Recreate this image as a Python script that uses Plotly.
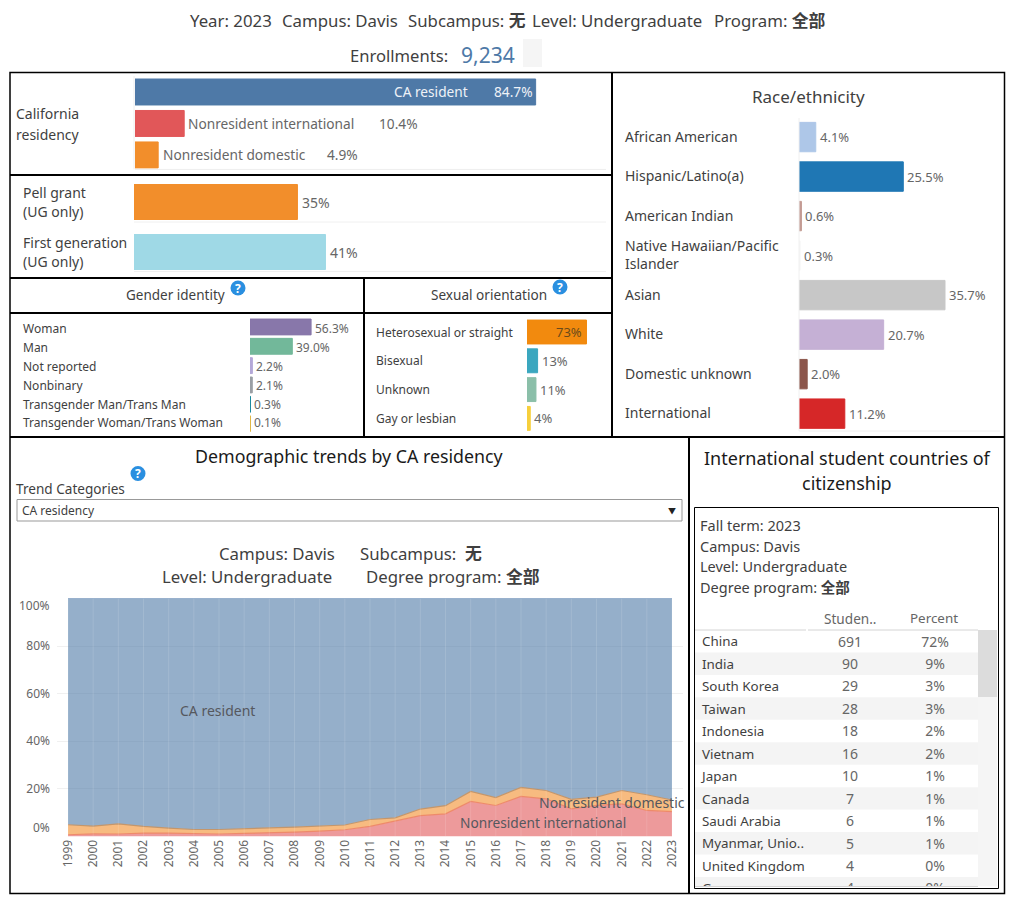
import plotly.graph_objects as go

# ---------- data ----------
RES_CATS = ["CA resident", "Nonresident international", "Nonresident domestic"]
RES_VALS = [84.7, 10.4, 4.9]
UG_CATS = ["Pell grant", "First generation"]
UG_VALS = [35, 41]
GENDER_CATS = ["Woman", "Man", "Not reported", "Nonbinary", "Transgender Man/Trans Man", "Transgender Woman/Trans Woman"]
GENDER_VALS = [56.3, 39.0, 2.2, 2.1, 0.3, 0.1]
ORIENT_CATS = ["Heterosexual or straight", "Bisexual", "Unknown", "Gay or lesbian"]
ORIENT_VALS = [73, 13, 11, 4]
RACE_CATS = ["African American", "Hispanic/Latino(a)", "American Indian", "Native Hawaiian/Pacific<br>Islander",
             "Asian", "White", "Domestic unknown", "International"]
RACE_VALS = [4.1, 25.5, 0.6, 0.3, 35.7, 20.7, 2.0, 11.2]
YEARS = list(range(1999, 2024))
INTL = [0.7, 1.1, 1.0, 1.4, 1.4, 1.3, 1.0, 1.3, 1.4, 1.8, 2.2, 2.8, 4.2, 6.4, 8.7, 9.5, 14.7, 13.0, 16.8, 15.8, 11.6, 13.0, 13.7, 10.9, 10.4]
DOMESTIC = [4.2, 3.2, 4.3, 2.8, 2.1, 1.6, 1.9, 2.1, 2.2, 2.1, 2.1, 2.0, 2.9, 1.4, 2.8, 3.4, 4.2, 3.3, 3.8, 3.5, 4.0, 3.5, 5.6, 6.6, 4.9]
CA_RES = [95.1, 95.7, 94.7, 95.8, 96.5, 97.1, 97.1, 96.6, 96.4, 96.1, 95.7, 95.2, 92.9, 92.2, 88.5, 87.1, 81.1, 83.7, 79.4, 80.7, 84.4, 83.5, 80.7, 82.5, 84.7]
COUNTRIES = ["China", "India", "South Korea", "Taiwan", "Indonesia", "Vietnam", "Japan", "Canada",
             "Saudi Arabia", "Myanmar, Unio..", "United Kingdom", "Germany"]
STUDENTS = [691, 90, 29, 28, 18, 16, 10, 7, 6, 5, 4, 4]
PERCENTS = [72, 9, 3, 3, 2, 2, 1, 1, 1, 1, 0, 0]

# ---------- style ----------
W, H = 1012, 900
FONT = "'Noto Sans', 'Noto Sans CJK SC', sans-serif"
DARK, GREY = "#3f3f3f", "#666666"
RES_COLORS = ["#4e79a7", "#e15759", "#f28e2b"]
UG_COLORS = ["#f28e2b", "#9fd9e6"]
GENDER_COLORS = ["#8877aa", "#72b89a", "#b4a8d8", "#9a9fa5", "#0f8299", "#d8a820"]
ORIENT_COLORS = ["#f28a0e", "#3ba7bf", "#8bbfa9", "#f6cf3c"]
RACE_COLORS = ["#aec7e8", "#1f77b4", "#c49c94", "#f7f7f7", "#c7c7c7", "#c5b0d5", "#8c564b", "#d62728"]

def px(x): return x / W
def py(y): return 1 - y / H
def dx(a, b): return [px(a), px(b)]
def dy(top, bot): return [py(bot), py(top)]

fig = go.Figure()
ann, shp = [], []

def text(x, y, s, size=14, color=DARK, anchor="left", **kw):
    ann.append(dict(xref="paper", yref="paper", x=px(x - (2 if anchor == "left" else 0)), y=py(y), text=s, showarrow=False,
                    xanchor=anchor, yanchor="middle", align=kw.pop("align", anchor),
                    font=dict(family=FONT, size=size, color=color), **kw))

def line(x0, y0, x1, y1, color="black", width=1.5):
    shp.append(dict(type="line", xref="paper", yref="paper", x0=px(x0), x1=px(x1), y0=py(y0), y1=py(y1),
                    line=dict(color=color, width=width), layer="above"))

def rect(x0, y0, x1, y1, fill=None, color=None, width=1, layer="below", kind="rect"):
    shp.append(dict(type=kind, xref="paper", yref="paper", x0=px(x0), x1=px(x1), y0=py(y0), y1=py(y1),
                    fillcolor=fill or "rgba(0,0,0,0)", line=dict(color=color or "rgba(0,0,0,0)", width=width), layer=layer))

layout = {}
def hbars(idx, cats, vals, colors, xd, yd, xmax, gap, yrange=None):
    sfx = "" if idx == 1 else str(idx)
    n = len(cats)
    layout["xaxis" + sfx] = dict(domain=dx(*xd), range=[0, xmax], visible=False, fixedrange=True, anchor="y" + sfx)
    layout["yaxis" + sfx] = dict(domain=dy(*yd), type="category", visible=False, fixedrange=True,
                                 range=yrange or [n - 0.5, -0.5], anchor="x" + sfx)
    fig.add_trace(go.Bar(x=vals, y=cats, orientation="h", xaxis="x" + sfx, yaxis="y" + sfx,
                         marker=dict(color=colors, line=dict(color=colors, width=1)), hoverinfo="skip",
                         width=1 - gap, showlegend=False))
    return "x" + sfx, "y" + sfx

def val_label(xr, yr, cat, val, s, size, color=GREY, shift=5, anchor="left", ysh=0):
    ann.append(dict(xref=xr, yref=yr, x=val, y=cat, text=s, showarrow=False, xanchor=anchor, yanchor="middle", yshift=ysh,
                    xshift=shift + (-2 if anchor == "left" else 2), font=dict(family=FONT, size=size, color=color)))

def cat_label(yr, cat, x, s, size, color=DARK, ysh=0):
    ann.append(dict(xref="paper", yref=yr, x=px(x - 2), y=cat, text=s, showarrow=False, xanchor="left", align="left",
                    yanchor="middle", yshift=ysh, font=dict(family=FONT, size=size, color=color)))

# ---------- header ----------
for x, s in [(190, "Year: 2023"), (282, "Campus: Davis"), (408, "Subcampus: <b>无</b>"),
             (532, "Level: Undergraduate"), (714, "Program: <b>全部</b>")]:
    text(x, 21, s, 16.8, DARK)
text(350, 55, "Enrollments:", 16.6, DARK)
text(461, 55, "9,234", 21, "#4e79a7")
rect(523, 39, 542, 67, fill="#f5f5f5")

# ---------- residency ----------
xr, yr = hbars(1, RES_CATS, RES_VALS, RES_COLORS, (135, 606), (76.25, 169.4), 471 / 4.73, 0.175, [2.46, -0.5])
text(16, 113.5, "California", 14); text(16, 134.5, "residency", 14)
val_label(xr, yr, "CA resident", 84.7, "CA resident", 13.7, "#eef2f7", -68, "right")
val_label(xr, yr, "CA resident", 84.7, "84.7%", 13.7, "#eef2f7", -3, "right")
val_label(xr, yr, "Nonresident international", 10.4, "Nonresident international", 13.7, GREY, 4)
val_label(xr, yr, "Nonresident international", 10.4, "10.4%", 13.7, GREY, 195)
val_label(xr, yr, "Nonresident domestic", 4.9, "Nonresident domestic", 13.7, GREY, 5)
val_label(xr, yr, "Nonresident domestic", 4.9, "4.9%", 13.7, GREY, 169)
line(135, 169.4, 606, 169.4, "#eeeeee", 1); line(134, 76, 134, 169.4, "#eeeeee", 1)

# ---------- pell / first gen ----------
xr, yr = hbars(2, UG_CATS, UG_VALS, UG_COLORS, (134, 606), (177, 277), 472 / 4.67, 0.3)
val_label(xr, yr, "Pell grant", 35, "35%", 14)
val_label(xr, yr, "First generation", 41, "41%", 14)
text(23, 192.5, "Pell grant", 14); text(23, 211.5, "(UG only)", 14)
text(23, 242.5, "First generation", 14); text(23, 261.5, "(UG only)", 14)
line(134, 222, 606, 222, "#f0f0f0", 1); line(134, 271.5, 606, 271.5, "#f0f0f0", 1)

# ---------- gender ----------
xr, yr = hbars(3, GENDER_CATS, GENDER_VALS, GENDER_COLORS, (250, 360), (317.3, 433.3), 110 / 1.085, 0.18)
for c, v, ysh in zip(GENDER_CATS, GENDER_VALS, [-2, -1, -1, -1, 0, 1]):
    val_label(xr, yr, c, v, f"{v:.1f}%", 12, GREY, 4, ysh=ysh)
    cat_label(yr, c, 23, c, 12, ysh=ysh)
text(175.5, 295, "Gender identity", 13.5, DARK, "center")

# ---------- orientation ----------
xr, yr = hbars(4, ORIENT_CATS, ORIENT_VALS, ORIENT_COLORS, (527, 608), (317.6, 432.8), 81 / 0.815, 0.17)
for c, v in zip(ORIENT_CATS, ORIENT_VALS):
    cat_label(yr, c, 376, c, 12)
    if v > 50:
        val_label(xr, yr, c, v, f"{v}%", 13, "#6b4a1a", -4, "right")
    else:
        val_label(xr, yr, c, v, f"{v}%", 13, GREY, 4)
text(488.5, 295, "Sexual orientation", 13.6, DARK, "center")

# ---------- race ----------
xr, yr = hbars(5, RACE_CATS, RACE_VALS, RACE_COLORS, (799, 1000), (117.3, 433.4), 201 / 4.09, 0.256)
for c, v in zip(RACE_CATS, RACE_VALS):
    val_label(xr, yr, c, v, f"{v:.1f}%", 13, GREY, 4)
    cat_label(yr, c, 625, c, 14, ysh=0.7)
text(808.5, 96, "Race/ethnicity", 17, DARK, "center")
line(799, 431, 1000, 431, "#f0f0f0", 1); line(799, 118, 799, 431, "#f0f0f0", 1)

# ---------- trends ----------
text(349.5, 456, "Demographic trends by CA residency", 17.8, "#1a1a1a", "center")
text(16, 488, "Trend Categories", 13.6, DARK)
rect(17, 499.5, 682, 521, color="#999999", layer="above")
text(22, 510.5, "CA residency", 12, DARK)
text(672, 510.5, "▼", 8, "#222222", "center")
text(219, 553, "Campus: Davis", 16.8, DARK); text(360, 553, "Subcampus:  <b>无</b>", 16.8, DARK)
text(162, 576, "Level: Undergraduate", 16.8, DARK); text(366, 576, "Degree program: <b>全部</b>", 16.8, DARK)

ppy = 25.167
layout["xaxis6"] = dict(domain=dx(57, 683), range=[1999 - 11 / ppy, 2023 + 11 / ppy], tickmode="array",
                        tickvals=YEARS, ticktext=[str(y) for y in YEARS], tickangle=-90, showline=False,
                        ticks="", showgrid=False, zeroline=False, fixedrange=True,
                        tickfont=dict(family=FONT, size=12, color=GREY), anchor="y6")
layout["yaxis6"] = dict(domain=dy(598.5, 836.4), range=[0, 100], tickmode="array", tickvals=[20, 40, 60, 80],
                        ticktext=["20%", "40%", "60%", "80%"], showgrid=True, gridcolor="#f0f0f0", zeroline=False,
                        showline=False, ticks="", ticklabelstandoff=6, fixedrange=True,
                        tickfont=dict(family=FONT, size=12, color=GREY), anchor="x6")
for name, vals, lc, fc in [("Nonresident international", INTL, "#ee8a6a", "rgba(225,87,89,0.6)"),
                           ("Nonresident domestic", DOMESTIC, "#c4966b", "rgba(242,142,43,0.6)"),
                           ("CA resident", CA_RES, "#4e79a7", "rgba(78,121,167,0.6)")]:
    fig.add_trace(go.Scatter(x=YEARS, y=vals, name=name, mode="lines", stackgroup="one", xaxis="x6", yaxis="y6",
                             line=dict(color=lc, width=1.2), fillcolor=fc, hoverinfo="skip", showlegend=False))
for yr_ in YEARS:
    shp.append(dict(type="line", xref="x6", yref="y6", x0=yr_, x1=yr_, y0=0, y1=100, layer="above",
                    line=dict(color="rgba(255,255,255,0.13)", width=1)))
for lab, y, sh in [("0%", 0, 9), ("100%", 100, -7)]:
    ann.append(dict(xref="paper", yref="y6", x=px(51.5), y=y, yshift=sh, text=lab, showarrow=False, xanchor="right",
                    yanchor="middle", font=dict(family=FONT, size=12, color=GREY)))
for lab, x, y, size in [("CA resident", 2004.96, 53, 14), ("Nonresident domestic", 2020.63, 14.3, 14),
                        ("Nonresident international", 2017.87, 5.9, 13.7)]:
    ann.append(dict(xref="x6", yref="y6", x=x, y=y, text=lab, showarrow=False, xanchor="center", yanchor="middle",
                    font=dict(family=FONT, size=size, color="#55585e")))

# ---------- countries ----------
text(847, 458, "International student countries of", 18, "#1a1a1a", "center")
text(847, 483, "citizenship", 18, "#1a1a1a", "center")
rect(694.5, 507.5, 998.5, 888.5, color="black", layer="above")
for i, s in enumerate(["Fall term: 2023", "Campus: Davis", "Level: Undergraduate", "Degree program: <b>全部</b>"]):
    text(700, [525, 545.5, 566, 587][i], s, 14.5, DARK)
text(850, 618, "Studen..", 13.6, GREY, "center")
text(934, 618, "Percent", 13.4, GREY, "center")

row_h = 22.45
n_rows = (886.5 - 630) / row_h
tw = 302
layout["xaxis7"] = dict(domain=dx(695, 997), range=[0, tw], visible=False, fixedrange=True, anchor="y7")
layout["yaxis7"] = dict(domain=dy(630, 886.5), range=[n_rows - 0.5, -0.5], visible=False, fixedrange=True, anchor="x7")
rows = list(range(len(COUNTRIES)))
fig.add_trace(go.Bar(x=[283 for r in rows if r % 2], y=[r for r in rows if r % 2], orientation="h", width=1,
                     marker=dict(color="#f4f4f4", line=dict(width=0)), xaxis="x7", yaxis="y7",
                     hoverinfo="skip", showlegend=False))
for col, vals, pos, color, fs in [(7, COUNTRIES, "middle right", DARK, 13.4),
                                  (155, [str(s) for s in STUDENTS], "middle center", GREY, 14),
                                  (240, [f"{p}%" for p in PERCENTS], "middle center", GREY, 14)]:
    fig.add_trace(go.Scatter(x=[col] * len(vals), y=[r + 0.08 for r in rows], mode="text", text=vals, textposition=pos,
                             textfont=dict(family=FONT, size=fs, color=color), xaxis="x7", yaxis="y7",
                             hoverinfo="skip", showlegend=False, cliponaxis=True))
rect(978, 630, 997, 886.5, fill="#f5f5f5")
rect(978, 630, 997, 697, fill="#dcdcdc")
line(695, 630, 806, 630, "#d4d4d4", 1); line(808, 630, 978, 630, "#d4d4d4", 1)
line(695, 886.5, 978, 886.5, "#d4d4d4", 1)

# ---------- frames ----------
rect(10, 72.5, 1004.5, 893.5, color="black", width=1.5, layer="above")
line(10, 175, 612, 175, width=2); line(10, 278, 612, 278, width=2); line(10, 313, 612, 313, width=2)
line(10, 437, 1004.5, 437, width=2)
line(612, 72.5, 612, 437, width=2); line(364, 278, 364, 437, width=2); line(689, 437, 689, 893.5, width=2)

# ---------- help icons ----------
for cx, cy in [(238, 288), (560, 287), (138, 473.5)]:
    rect(cx - 7.5, cy - 7.5, cx + 7.5, cy + 7.5, fill="#2a8fe0", layer="above", kind="circle")
    text(cx, cy, "<b>?</b>", 12, "white", "center")

fig.update_layout(width=W, height=H, autosize=False, margin=dict(l=0, r=0, t=0, b=0), paper_bgcolor="white",
                  plot_bgcolor="rgba(0,0,0,0)", barmode="overlay", annotations=ann, shapes=shp,
                  font=dict(family=FONT), **layout)
fig.write_html("out.html", post_script="document.body.style.margin='0';", config={"displayModeBar": False})
